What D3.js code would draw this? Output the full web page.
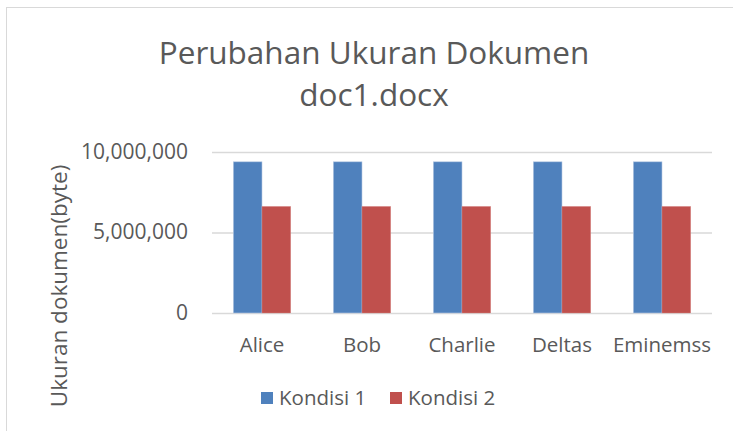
<!DOCTYPE html>
<html>
<head>
<meta charset="utf-8">
<script src="https://cdn.jsdelivr.net/npm/d3@7"></script>
<style>
  body { margin: 0; background: #fff; }
  text { font-family: "Open Sans", sans-serif; fill: #595959; }
</style>
</head>
<body>
<div id="container"></div>
<script>
// data
var names = ["Alice", "Bob", "Charlie", "Deltas", "Eminemss"],
    kondisi1 = [9390000, 9390000, 9390000, 9390000, 9390000],
    kondisi2 = [6620000, 6620000, 6620000, 6620000, 6620000],
    seriesNames = ["Kondisi 1", "Kondisi 2"],
    yTicks = [0, 5000000, 10000000];

var W = 733, H = 431,
    plot = {left: 212, right: 712, top: 152, bottom: 313},
    col = {k1: "#4f81bd", k2: "#c0504d", grid: "#d9d9d9"};

var svg = d3.select("#container")
    .append("svg")
    .attr("width", W)
    .attr("height", H);

// chart border (only top and left visible in the crop)
svg.append("rect")
    .attr("x", 6.5).attr("y", 7.5)
    .attr("width", W + 10).attr("height", H + 10)
    .attr("fill", "none")
    .attr("stroke", col.grid);

// title
svg.append("text")
    .attr("x", 374).attr("y", 64)
    .attr("text-anchor", "middle")
    .style("font-size", "31.5px")
    .text("Perubahan Ukuran Dokumen");
svg.append("text")
    .attr("x", 374).attr("y", 106)
    .attr("text-anchor", "middle")
    .style("font-size", "31.5px")
    .text("doc1.docx");

// scales
var x = d3.scaleBand()
    .domain(names)
    .range([plot.left, plot.right])
    .paddingInner(0.426)
    .paddingOuter(0.213);
var xs = d3.scaleBand()
    .domain(seriesNames)
    .range([0, x.bandwidth()]);
var y = d3.scaleLinear()
    .domain([0, 10000000])
    .range([plot.bottom, plot.top]);

// y axis + gridlines
var yAxis = svg.append("g")
    .attr("transform", "translate(" + plot.left + ",0)")
    .call(d3.axisLeft(y)
        .tickValues(yTicks)
        .tickSize(-(plot.right - plot.left))
        .tickPadding(24)
        .tickFormat(d3.format(",")));
yAxis.select(".domain").remove();
yAxis.selectAll("line").attr("stroke", col.grid).attr("stroke-width", 1.3);
yAxis.selectAll("text")
    .style("font-size", "21px")
    .attr("dy", "0.3em");

// bars
var groups = svg.append("g").selectAll("g")
    .data(names)
    .enter()
    .append("g")
        .attr("transform", function(d) { return "translate(" + x(d) + ",0)"; });

groups.append("rect")
    .attr("x", xs("Kondisi 1"))
    .attr("y", function(d, i) { return y(kondisi1[i]); })
    .attr("width", xs.bandwidth())
    .attr("height", function(d, i) { return y(0) - y(kondisi1[i]); })
    .attr("fill", col.k1)
    .attr("stroke", "#b7cae3").attr("stroke-width", 0.6);
groups.append("rect")
    .attr("x", xs("Kondisi 2"))
    .attr("y", function(d, i) { return y(kondisi2[i]); })
    .attr("width", xs.bandwidth())
    .attr("height", function(d, i) { return y(0) - y(kondisi2[i]); })
    .attr("fill", col.k2)
    .attr("stroke", "#d88a88").attr("stroke-width", 0.4);

// x axis labels
var xAxis = svg.append("g")
    .attr("transform", "translate(0," + plot.bottom + ")")
    .call(d3.axisBottom(x).tickSize(0).tickPadding(39));
xAxis.select(".domain").remove();
xAxis.selectAll("text")
    .style("font-size", "20.5px")
    .attr("dy", 0);

// y label
svg.append("text")
    .attr("transform", "translate(67,286) rotate(-90)")
    .attr("text-anchor", "middle")
    .style("font-size", "22.5px")
    .text("Ukuran dokumen(byte)");

// legend
var legend = [{name: seriesNames[0], c: col.k1, x: 261},
              {name: seriesNames[1], c: col.k2, x: 390}];
var lg = svg.append("g").selectAll("g")
    .data(legend)
    .enter()
    .append("g")
        .attr("transform", function(d) { return "translate(" + d.x + ",392)"; });
lg.append("rect")
    .attr("width", 12).attr("height", 12)
    .attr("fill", function(d) { return d.c; });
lg.append("text")
    .attr("x", 18).attr("y", 13)
    .style("font-size", "20.5px")
    .text(function(d) { return d.name; });
</script>
</body>
</html>
